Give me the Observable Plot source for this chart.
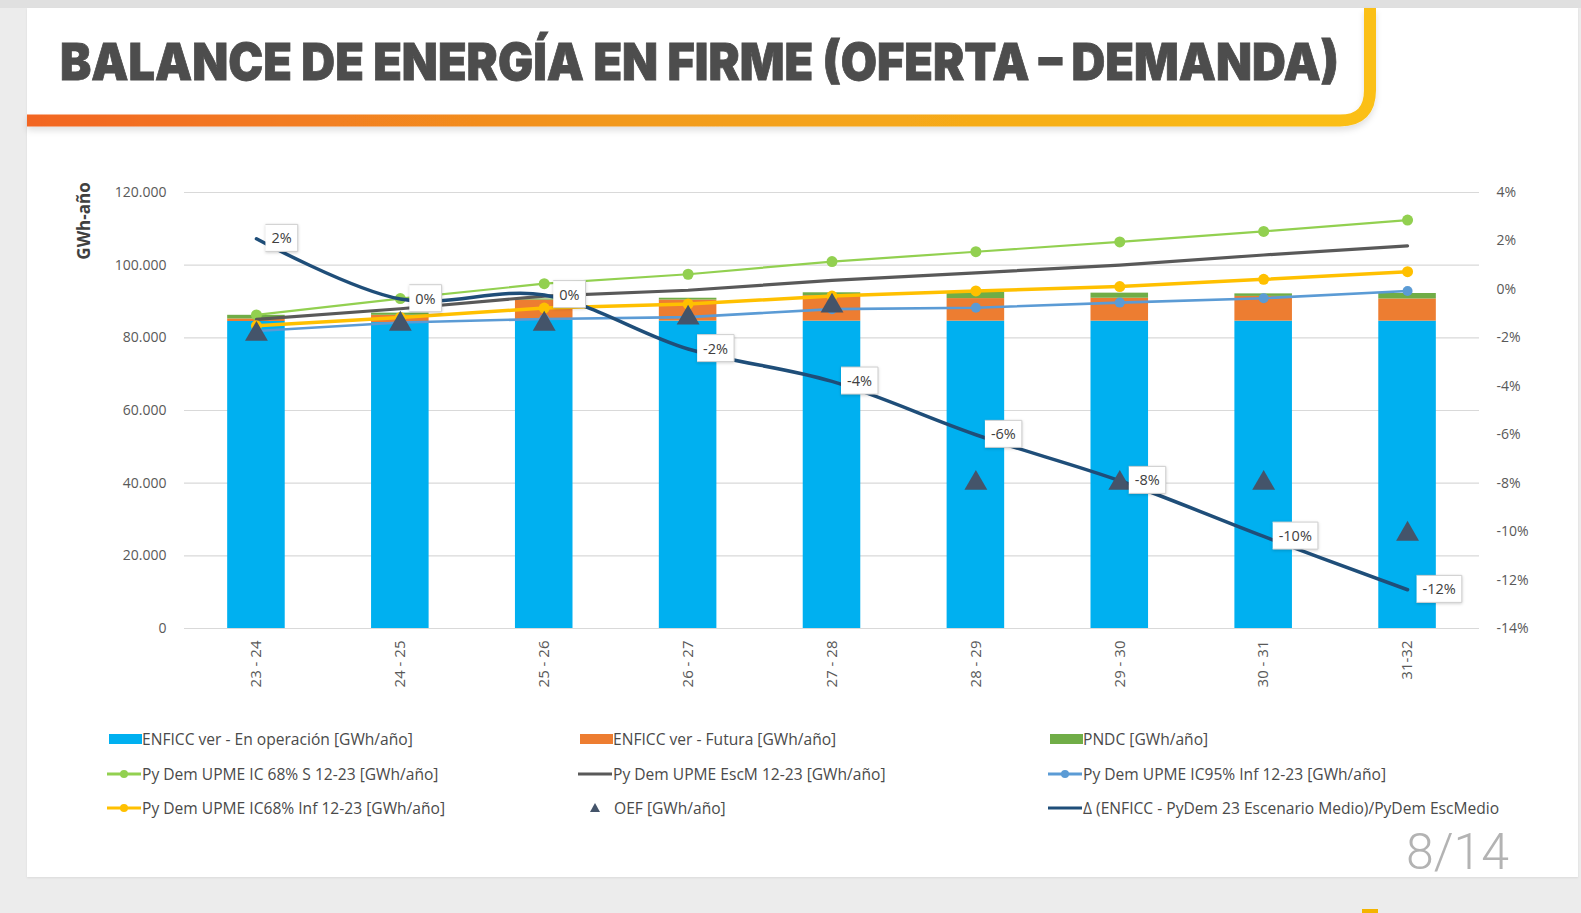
<!DOCTYPE html>
<html>
<head>
<meta charset="utf-8">
<script src="https://cdn.jsdelivr.net/npm/d3@7"></script>
<script src="https://cdn.jsdelivr.net/npm/@observablehq/plot@0.6"></script>
<style>
  html, body { margin: 0; padding: 0; }
  body { width: 1581px; height: 913px; background: #ececec; position: relative; overflow: hidden; font-family: "Open Sans", sans-serif; }
  #topstrip { position: absolute; left: 0; top: 0; width: 1581px; height: 8px; background: #e0e0e0; }
  #card { position: absolute; left: 27px; top: 8px; width: 1551px; height: 869px; background: #ffffff; box-shadow: 0 1px 2px rgba(0,0,0,0.08); }
  #deco { position: absolute; left: 0; top: 0; }
  #chart { position: absolute; left: 0; top: 140px; }
  #legend { position: absolute; left: 0; top: 0; width: 1581px; height: 913px; pointer-events: none; }
  .item { position: absolute; display: flex; align-items: center; height: 22px; font-size: 15.6px; color: #4a4a4a; white-space: nowrap; }
  .item svg { display: block; flex: none; }
</style>
</head>
<body>
<div id="topstrip"></div>
<div id="card"></div>
<svg id="deco" width="1581" height="913">
  <defs>
    <linearGradient id="gbar" gradientUnits="userSpaceOnUse" x1="27" y1="0" x2="1376" y2="0">
      <stop offset="0" stop-color="#f26522"/>
      <stop offset="0.45" stop-color="#f29a1e"/>
      <stop offset="1" stop-color="#fbc013"/>
    </linearGradient>
    <filter id="sh" x="-5%" y="-50%" width="110%" height="200%">
      <feDropShadow dx="0" dy="4" stdDeviation="3" flood-color="#000" flood-opacity="0.12"/>
    </filter>
  </defs>
  <path d="M27,120.5 H1340 Q1370,120.5 1370,90 V8" fill="none" stroke="url(#gbar)" stroke-width="12" filter="url(#sh)"/>
  <text x="60" y="80" font-family="Inter, Lato, sans-serif" font-weight="900" font-size="51" fill="#4d4d4d" stroke="#4d4d4d" stroke-width="0.8" textLength="1279" lengthAdjust="spacingAndGlyphs">BALANCE DE ENERGÍA EN FIRME (OFERTA – DEMANDA)</text>
  <text transform="translate(90,221) rotate(-90)" text-anchor="middle" font-family="'Open Sans', sans-serif" font-weight="700" font-size="17" fill="#404040">GWh-año</text>
  <text x="1509" y="869" text-anchor="end" font-family="Roboto, sans-serif" font-weight="300" font-size="50" fill="#b3b3b3">8/14</text>
  <rect x="1362" y="909" width="16" height="4" fill="#f4b400"/>
</svg>
<div id="chart"></div>
<div id="legend"></div>
<script>
// ---------- data ----------
const categories = ["23 - 24", "24 - 25", "25 - 26", "26 - 27", "27 - 28", "28 - 29", "29 - 30", "30 - 31", "31-32"];
const enficcOperacion = [84500, 84200, 84800, 84600, 84600, 84600, 84600, 84600, 84600];
const enficcFutura    = [700, 2000, 5600, 5800, 7000, 6200, 6300, 6800, 6100];
const pndc            = [1000, 600, 300, 500, 800, 1700, 1400, 700, 1500];
const demIC68S        = [86300, 90800, 94900, 97500, 101000, 103700, 106400, 109300, 112400];
const demEscM         = [85100, 88000, 91500, 93100, 95800, 97900, 100000, 102800, 105300];
const demIC95Inf      = [81900, 84200, 85200, 85700, 87900, 88300, 89700, 90900, 92900];
const demIC68Inf      = [83300, 85600, 88200, 89300, 91500, 92900, 94100, 96100, 98200];
const oef             = [81000, 83800, 83800, 85500, 88800, 40000, 40000, 40000, 26000];
const deltaPct        = [2.09, -0.4, -0.23, -2.46, -3.8, -6.0, -7.9, -10.2, -12.4];
const deltaLabels     = ["2%", "0%", "0%", "-2%", "-4%", "-6%", "-8%", "-10%", "-12%"];
const leftTicks  = [0, 20000, 40000, 60000, 80000, 100000, 120000];
const rightTicks = [-14, -12, -10, -8, -6, -4, -2, 0, 2, 4];

const barSeries = ["ENFICC ver - En operación [GWh/año]", "ENFICC ver - Futura [GWh/año]", "PNDC [GWh/año]"];
const barValues = [enficcOperacion, enficcFutura, pndc];
const barColors = ["#00b0f0", "#ed7d31", "#70ad47"];

// ---------- helpers ----------
const leftMax = 120000, rMin = -14, rMax = 4;
const toLeft = p => (p - rMin) / (rMax - rMin) * leftMax;       // right-axis % -> left-axis units
const fromLeft = v => v / leftMax * (rMax - rMin) + rMin;
const fmtThousands = v => d3.format(",")(v).replace(/,/g, ".");

const barRows = categories.flatMap((c, i) => barSeries.map((s, k) => ({cat: c, serie: s, v: barValues[k][i]})));
const series = arr => categories.map((c, i) => ({cat: c, v: arr[i]}));
const deltaRows = categories.map((c, i) => ({cat: c, v: toLeft(deltaPct[i]), label: deltaLabels[i]}));

const FONT = "'Open Sans', sans-serif";

const chart = Plot.plot({
  width: 1581,
  height: 570,
  marginLeft: 184,
  marginRight: 102,
  marginTop: 52,
  marginBottom: 82,
  style: {fontFamily: FONT, fontSize: "13.5px", color: "#595959", background: "transparent"},
  x: {type: "band", domain: categories, paddingInner: 0.6, paddingOuter: 0.3, round: false},
  y: {domain: [0, leftMax]},
  color: {domain: barSeries, range: barColors},
  marks: [
    Plot.gridY(leftTicks, {stroke: "#d9d9d9", strokeOpacity: 1, strokeWidth: 1.2}),
    Plot.barY(barRows, {x: "cat", y: "v", fill: "serie"}),
    Plot.line(series(demIC68S), {x: "cat", y: "v", stroke: "#92d050", strokeWidth: 2.2}),
    Plot.dot(series(demIC68S), {x: "cat", y: "v", r: 5.5, fill: "#92d050"}),
    Plot.line(series(demEscM), {x: "cat", y: "v", stroke: "#595959", strokeWidth: 3.2}),
    Plot.line(series(demIC68Inf), {x: "cat", y: "v", stroke: "#ffc000", strokeWidth: 3.5}),
    Plot.dot(series(demIC68Inf), {x: "cat", y: "v", r: 5.5, fill: "#ffc000"}),
    Plot.line(series(demIC95Inf), {x: "cat", y: "v", stroke: "#5b9bd5", strokeWidth: 2.6}),
    Plot.dot(series(demIC95Inf), {x: "cat", y: "v", r: 5, fill: "#5b9bd5"}),
    Plot.line(deltaRows, {x: "cat", y: "v", stroke: "#1f4e79", strokeWidth: 3.5, curve: "catmull-rom"}),
    Plot.dot(series(oef), {x: "cat", y: "v", symbol: "triangle", r: 8.5, fill: "#44546a"}),
    Plot.text(deltaRows, {x: "cat", y: "v", text: "label", textAnchor: "start", fontSize: 14.5, fill: "#404040", className: "dlabel"}),
    Plot.axisY(leftTicks, {anchor: "left", tickSize: 0, tickPadding: 18, tickFormat: fmtThousands, label: null, fontSize: 14}),
    Plot.axisY(rightTicks.map(toLeft), {anchor: "right", tickSize: 0, tickPadding: 17, label: null, fontSize: 14,
      tickFormat: v => Math.round(fromLeft(v)) + "%"}),
    Plot.axisX({tickRotate: -90, tickSize: 0, tickPadding: 12, label: null, fontSize: 15})
  ]
});
document.getElementById("chart").appendChild(chart);

// callout boxes behind the delta labels (positions come from the rendered Plot text)
chart.querySelectorAll("g.dlabel text").forEach(t => {
  const tx = +(t.getAttribute("x") || 0), ty = +(t.getAttribute("y") || 0);
  t.setAttribute("x", tx + 15);
  const b = t.getBBox();
  const bx = b.x - 6, by = b.y - 4, bw = b.width + 12, bh = b.height + 8;
  const p = document.createElementNS("http://www.w3.org/2000/svg", "path");
  p.setAttribute("d", `M${bx},${by}H${bx + bw}V${by + bh}H${bx}V${ty + 5}L${tx + 2},${ty}L${bx},${ty - 5}Z`);
  p.setAttribute("fill", "#ffffff");
  p.setAttribute("stroke", "#cfcfcf");
  p.setAttribute("stroke-width", "1");
  p.setAttribute("style", "filter: drop-shadow(0 1px 1.5px rgba(0,0,0,0.18))");
  if (t.getAttribute("transform")) p.setAttribute("transform", t.getAttribute("transform"));
  t.parentNode.insertBefore(p, t);
});

// ---------- legend ----------
const legendItems = [
  {label: barSeries[0], kind: "rect", color: barColors[0], x: 109, y: 739},
  {label: barSeries[1], kind: "rect", color: barColors[1], x: 580, y: 739},
  {label: barSeries[2], kind: "rect", color: barColors[2], x: 1050, y: 739},
  {label: "Py Dem UPME IC 68% S 12-23 [GWh/año]", kind: "lineDot", color: "#92d050", x: 106, y: 774},
  {label: "Py Dem UPME EscM 12-23 [GWh/año]", kind: "line", color: "#595959", x: 577, y: 774},
  {label: "Py Dem UPME IC95% Inf 12-23 [GWh/año]", kind: "lineDot", color: "#5b9bd5", x: 1047, y: 774},
  {label: "Py Dem UPME IC68% Inf 12-23 [GWh/año]", kind: "lineDot", color: "#ffc000", x: 106, y: 808},
  {label: "OEF [GWh/año]", kind: "tri", color: "#44546a", x: 577, y: 808},
  {label: "Δ (ENFICC - PyDem 23 Escenario Medio)/PyDem EscMedio", kind: "line", color: "#1f4e79", x: 1047, y: 808}
];
const legend = document.getElementById("legend");
for (const it of legendItems) {
  const div = document.createElement("div");
  div.className = "item";
  div.style.left = it.x + "px";
  div.style.top = (it.y - 11) + "px";
  let sw;
  if (it.kind === "rect") sw = `<svg width="33" height="22"><rect x="0" y="6" width="33" height="10" fill="${it.color}"/></svg>`;
  else if (it.kind === "line") sw = `<svg width="36" height="22"><line x1="1" x2="35" y1="11" y2="11" stroke="${it.color}" stroke-width="3"/></svg>`;
  else if (it.kind === "lineDot") sw = `<svg width="36" height="22"><line x1="1" x2="35" y1="11" y2="11" stroke="${it.color}" stroke-width="3"/><circle cx="18" cy="11" r="4" fill="${it.color}"/></svg>`;
  else sw = `<svg width="37" height="22"><path d="M18,6 L23,15 L13,15 Z" fill="${it.color}"/></svg>`;
  div.innerHTML = sw + `<span>${it.label}</span>`;
  legend.appendChild(div);
}
</script>
</body>
</html>
